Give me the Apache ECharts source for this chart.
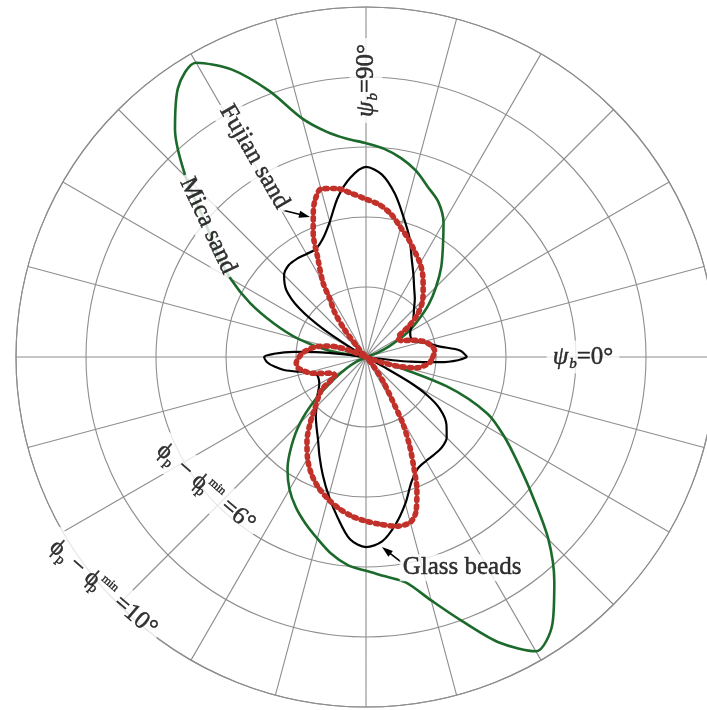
<!DOCTYPE html>
<html>
<head>
<meta charset="utf-8">
<style>
  html, body { margin: 0; padding: 0; background: #fff; }
  #chart { width: 707px; height: 710px; }
</style>
<script src="https://cdn.jsdelivr.net/npm/echarts@6/dist/echarts.min.js"></script>
</head>
<body>
<div id="chart"></div>
<script>
// Polar intensity of packing orientation: radius is phi_p - phi_p^min (deg), angle is psi_b (deg).

// Mica sand, sampled every 5 degrees of psi_b
const micaAngle = [0,5,10,15,20,25,30,35,40,45,50,55,60,65,70,75,80,85,90,95,100,105,110,115,120,125,130,135,140,145,150,155,160,165,170,175,180,185,190,195,200,205,210,215,220,225,230,235,240,245,250,255,260,265,270,275,280,285,290,295,300,305,310,315,320,325,330,335,340,345,350,355,360];
const micaR = [0,0,0,0.06,0.34,0.74,1.31,1.8,2.34,2.83,3.34,3.83,4.43,4.89,5.17,5.51,5.77,5.97,6.11,6.26,6.54,7.06,8.09,9.06,9.71,9.37,8.49,7.29,6.0,5.2,4.46,3.66,2.8,2.0,1.11,0.09,0,0,0,0,0,0.29,0.63,1.14,1.89,2.66,3.31,3.91,4.37,4.74,5.06,5.37,5.71,5.97,6.11,6.29,6.54,7.2,8.03,9.0,9.71,9.29,8.37,7.37,6.23,5.31,4.57,3.83,2.46,0.43,0,0,0];

// Glass beads
const glassAngle = [0,4,8,12,16,20,25,30,35,40,45,50,55,60,65,70,75,80,85,90,95,100,105,110,115,120,125,130,135,140,144,147,149,150,172,174,176,178,180,183,186,189,192,196,200,205,210,215,220,225,230,235,240,245,250,255,260,265,270,275,280,285,290,295,300,305,310,315,320,325,328,330,331,332,352,354,356,358,360];
const glassR = [2.89,2.69,2.14,1.83,1.57,1.43,1.4,1.46,1.6,1.77,1.94,2.17,2.4,2.71,3.09,3.63,4.14,4.74,5.23,5.43,5.14,4.63,4.0,3.6,3.4,3.4,3.43,3.43,3.31,2.97,2.34,1.43,0.43,0,0,1.29,2.06,2.63,2.91,2.83,2.63,2.37,2.0,1.57,1.49,1.49,1.54,1.66,1.83,2.0,2.23,2.46,2.74,3.14,3.6,4.11,4.66,5.23,5.43,5.29,4.86,4.34,3.8,3.51,3.43,3.4,3.37,3.26,3.0,2.57,2.06,1.43,0.57,0,0,1.29,2.14,2.63,2.89];

// Fujian sand
const fujianAngle = [0,5,10,15,20,25,30,33,36,40,45,50,55,60,65,70,75,80,85,90,95,100,105,108,110,113,116,120,122,125,128,131,133,156,158,161,165,168,172,176,180,185,189,193,196,200,205,210,213,216,220,225,230,235,240,245,250,255,260,265,270,275,280,285,288,291,293,296,299,301,305,310,313,338,341,344,348,351,355,360];
const fujianR = [1.91,1.97,1.89,1.71,1.4,1.11,1.06,1.14,1.54,1.94,2.29,2.54,2.83,3.09,3.31,3.57,3.83,4.14,4.37,4.51,4.69,4.89,4.97,4.71,4.4,3.86,3.14,2.46,1.94,1.57,1.0,0.34,0,0,0.43,0.89,1.2,1.43,1.63,1.8,1.91,2.0,1.97,1.8,1.66,1.37,1.09,1.03,1.14,1.54,1.77,2.06,2.49,2.94,3.34,3.69,3.97,4.2,4.4,4.57,4.69,4.8,4.91,4.89,4.63,4.06,3.54,2.86,2.17,1.51,0.86,0.29,0,0,0.43,0.97,1.49,1.66,1.83,1.91];

// Ring and axis annotations
const ringTicks = [6, 10];

const chart = echarts.init(document.getElementById('chart'), null, { renderer: 'canvas' });

const GRID = '#8e8e8e';
const SERIF = '"Liberation Serif", "DejaVu Serif", serif';
const INK = '#000';
const RED = '#c2302a';

const pairs = (ang, r) => ang.map((a, i) => [r[i], a]);

// slightly heavier strokes for the printed-looking serif text
const ink = { color: INK, textBorderColor: INK, textBorderWidth: 0.45 };

const rich = {
  i:   Object.assign({ fontFamily: SERIF, fontStyle: 'italic', fontSize: 25 }, ink),
  sb:  Object.assign({ fontFamily: SERIF, fontStyle: 'italic', fontSize: 15, padding: [14, 0, 0, 1] }, ink),
  t:   Object.assign({ fontFamily: SERIF, fontSize: 25 }, ink),
  f:   Object.assign({ fontFamily: SERIF, fontSize: 24 }, ink),
  ps:  Object.assign({ fontFamily: SERIF, fontSize: 14, padding: [14, 0, 0, 0] }, ink),
  pz:  Object.assign({ fontFamily: SERIF, fontSize: 14, padding: [14, 0, 0, 0], width: 1 }, ink),
  sup: Object.assign({ fontFamily: SERIF, fontSize: 12, padding: [0, 0, 16, 0] }, ink)
};

const ringText = v => '{f|ϕ}{ps|p}{t| − }{f|ϕ}{pz|p}{sup|min}{t| =' + v + '°}';

const labelItem = (r, a, text, rotate, pad) => ({
  value: [r, a],
  label: {
    formatter: text,
    rotate: rotate,
    padding: pad || [2, 5]
  }
});

const fujianData = pairs(fujianAngle, fujianR);

chart.setOption({
  animation: false,
  backgroundColor: '#fff',
  polar: { center: [366, 357], radius: 350 },
  angleAxis: {
    type: 'value', min: 0, max: 360, interval: 15,
    startAngle: 0, clockwise: false,
    axisLine: { show: true, lineStyle: { color: GRID, width: 1.1 } },
    axisTick: { show: false },
    axisLabel: { show: false },
    splitLine: { show: true, lineStyle: { color: GRID, width: 1.1 } }
  },
  radiusAxis: {
    type: 'value', min: 0, max: 10, interval: 2,
    axisLine: { show: false },
    axisTick: { show: false },
    axisLabel: { show: false },
    splitLine: { show: true, lineStyle: { color: GRID, width: 1.1 } }
  },
  series: [
    {
      name: 'Mica sand', type: 'line', coordinateSystem: 'polar',
      data: pairs(micaAngle, micaR), showSymbol: false, smooth: 0.3,
      lineStyle: { color: '#1c6a2b', width: 2.6 }, z: 3
    },
    {
      name: 'Glass beads', type: 'line', coordinateSystem: 'polar',
      data: pairs(glassAngle, glassR), showSymbol: false, smooth: 0.3,
      lineStyle: { color: '#000', width: 2.2 }, z: 4
    },
    {
      // thin core of the beaded Fujian sand curve
      name: 'Fujian sand', type: 'line', coordinateSystem: 'polar',
      data: fujianData, showSymbol: false, smooth: 0.3,
      lineStyle: { color: '#d4574f', width: 2.4 }, z: 5
    },
    {
      name: 'Fujian sand', type: 'line', coordinateSystem: 'polar',
      data: fujianData, showSymbol: false, smooth: 0.3,
      lineStyle: { color: RED, width: 5.6, type: [2.2, 5.2], cap: 'round' }, z: 6
    },
    {
      // pointer arrows from the series names to their curves
      type: 'custom', coordinateSystem: 'polar', z: 8, silent: true,
      data: [[4.82, 119.5, 4.31, 111.8], [5.94, 279.7, 5.45, 274.8]],
      renderItem: (params, api) => {
        const p0 = api.coord([api.value(0), api.value(1)]);
        const p1 = api.coord([api.value(2), api.value(3)]);
        const a = Math.atan2(p1[1] - p0[1], p1[0] - p0[0]);
        const L = 11, W = 3.6;
        const bx = p1[0] - L * Math.cos(a), by = p1[1] - L * Math.sin(a);
        return {
          type: 'group',
          children: [
            { type: 'line', shape: { x1: p0[0], y1: p0[1], x2: bx + 2 * Math.cos(a), y2: by + 2 * Math.sin(a) },
              style: { stroke: INK, lineWidth: 1.6 } },
            { type: 'polygon',
              shape: { points: [p1, [bx + W * Math.sin(a), by - W * Math.cos(a)], [bx - W * Math.sin(a), by + W * Math.cos(a)]] },
              style: { fill: INK } }
          ]
        };
      }
    },
    {
      // text annotations placed in polar coordinates
      type: 'scatter', coordinateSystem: 'polar', z: 10, silent: true,
      symbolSize: 1, itemStyle: { color: 'rgba(0,0,0,0)' },
      label: {
        show: true, position: 'inside', color: INK,
        fontFamily: SERIF, fontSize: 25,
        backgroundColor: '#fff', rich: rich
      },
      data: [
        labelItem(6.2, 0, '{i|ψ}{sb|b}{t|=0°}', 0, [2, 6]),
        labelItem(7.9, 90, '{i|ψ}{sb|b}{t|=90°}', 90, [2, 6]),
        labelItem(6.55, 119.2, '{t|Fujian sand}', -60, [3, 4]),
        labelItem(5.87, 140.3, '{t|Mica sand}', -65, [3, 4]),
        labelItem(6.62, 294.5, '{t|Glass beads}', 0, [1, 3]),
        labelItem(5.9, 219.1, ringText(ringTicks[0]), -41, [4, 6]),
        labelItem(10.0, 221.3, ringText(ringTicks[1]), -41, [4, 6])
      ]
    }
  ]
});
</script>
</body>
</html>
